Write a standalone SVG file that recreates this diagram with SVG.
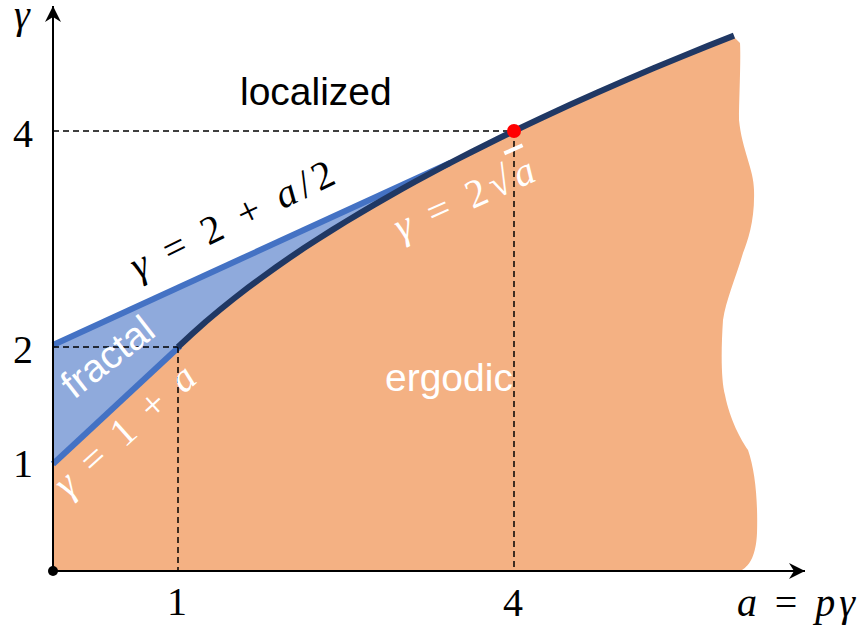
<svg xmlns="http://www.w3.org/2000/svg" width="862" height="631" viewBox="0 0 862 631">
<defs>
<style>
.m{font-family:"Liberation Serif","DejaVu Serif",serif;font-size:40px;fill:#000}
.i{font-style:italic}
.s{font-family:"Liberation Sans",Arial,sans-serif;font-size:39px}
.w{fill:#fff}
.dash{stroke:#000;stroke-width:1.5;stroke-dasharray:6,4;fill:none}
.axis{stroke:#000;stroke-width:2;fill:none}
.blue{stroke:#4472C4;stroke-width:6;fill:none}
</style>
<marker id="arr" markerUnits="userSpaceOnUse" markerWidth="20" markerHeight="20" viewBox="-17 -10 20 20" refX="0" refY="0" orient="auto">
<path d="M0,0 L-16,-8 L-11,0 L-16,8 Z" fill="#000"/>
</marker>
</defs>
<g id="ergodic-region">
<path d="M53,571 L53,466 L178,347 L206,321.5 L234,298.5 L262,277.3 L290,257.5 L318,239 L346,221.5 L374,204.8 L402,188.9 L430,173.6 L458,158.9 L486,144.7 L514,131 L542,117.7 L570,104.8 L598,92.2 L626,80 L654,68.1 L682,56.4 L708,45.9 L733,36 L740,43 C741,60 739,100 739,120 C742,150 754,170 754,190 C755,220 748,240 743,253 C735,280 726,300 723,320 C721,350 721,380 725,395 C730,420 741,440 748,450 C755,470 758,500 757,533 C756,555 750,565 742,570 L53,571 Z" fill="#F4B183"/>
</g>
<g id="fractal-region">
<path d="M53,345 L450,163 L430,173.6 L402,188.9 L374,204.8 L346,221.5 L318,239 L290,257.5 L262,277.3 L234,298.5 L206,321.5 L178,347 L53,464 Z" fill="#8FAADC"/>
</g>
<g id="connectors">
<line class="blue" x1="53" y1="345" x2="450" y2="163"/>
<line class="blue" x1="53" y1="464" x2="180" y2="346"/>
<line class="dash" x1="53" y1="131" x2="514" y2="131"/>
<line class="dash" x1="514" y1="131" x2="514" y2="571"/>
<line class="dash" x1="53" y1="347" x2="178" y2="347"/>
<line class="dash" x1="178" y1="347" x2="178" y2="571"/>
<polyline points="178,347 192,334 206,321.5 220,309.8 234,298.5 248,287.7 262,277.3 276,267.2 290,257.5 304,248.1 318,239 332,230.1 346,221.5 360,213.1 374,204.8 388,196.8 402,188.9 416,181.2 430,173.6 444,166.2 458,158.9 472,151.8 486,144.7 500,137.8 514,131 542,117.7 570,104.8 598,92.2 626,80 654,68.1 682,56.4 708,45.9 734,35.6" fill="none" stroke="#203864" stroke-width="6" stroke-linejoin="round"/>
<line class="axis" x1="53" y1="571" x2="53" y2="6" marker-end="url(#arr)"/>
<line class="axis" x1="53" y1="571" x2="805" y2="571" marker-end="url(#arr)"/>
</g>
<g id="origin"><circle cx="53" cy="571" r="5" fill="#000"/></g>
<g id="critical-point"><circle cx="514" cy="131" r="7" fill="#FF0000"/></g>
<g id="axis-labels">
<text class="m i" x="14" y="28" font-size="34">γ</text>
<text class="m" x="23" y="147" text-anchor="middle">4</text>
<text class="m" x="23" y="363" text-anchor="middle">2</text>
<text class="m" x="23" y="477" text-anchor="middle">1</text>
<text class="m" x="177" y="615" text-anchor="middle">1</text>
<text class="m" x="513" y="616" text-anchor="middle">4</text>
<text class="m" x="737" y="616" textLength="118" lengthAdjust="spacing"><tspan class="i">a</tspan> = <tspan class="i">pγ</tspan></text>
</g>
<g id="localized"><text class="s" x="240" y="105">localized</text></g>
<g id="ergodic"><text class="s w" x="385" y="391">ergodic</text></g>
<g id="fractal"><text class="s w" font-size="43" transform="translate(74,400) rotate(-38)">fractal</text></g>
<g id="label-line-upper"><text class="m" font-size="42" transform="translate(138,280) rotate(-26)" textLength="222" lengthAdjust="spacing"><tspan class="i">γ</tspan> = 2 + <tspan class="i">a</tspan>/2</text></g>
<g id="label-line-lower"><text class="m w" font-size="40" transform="translate(68,499) rotate(-42)" textLength="176" lengthAdjust="spacing"><tspan class="i">γ</tspan> = 1 + <tspan class="i">a</tspan></text></g>
<g id="label-curve"><text class="m w" font-size="40" transform="translate(401,241) rotate(-24)" textLength="150" lengthAdjust="spacing"><tspan class="i">γ</tspan> = 2√<tspan class="i" text-decoration="overline">a</tspan></text></g>
</svg>
